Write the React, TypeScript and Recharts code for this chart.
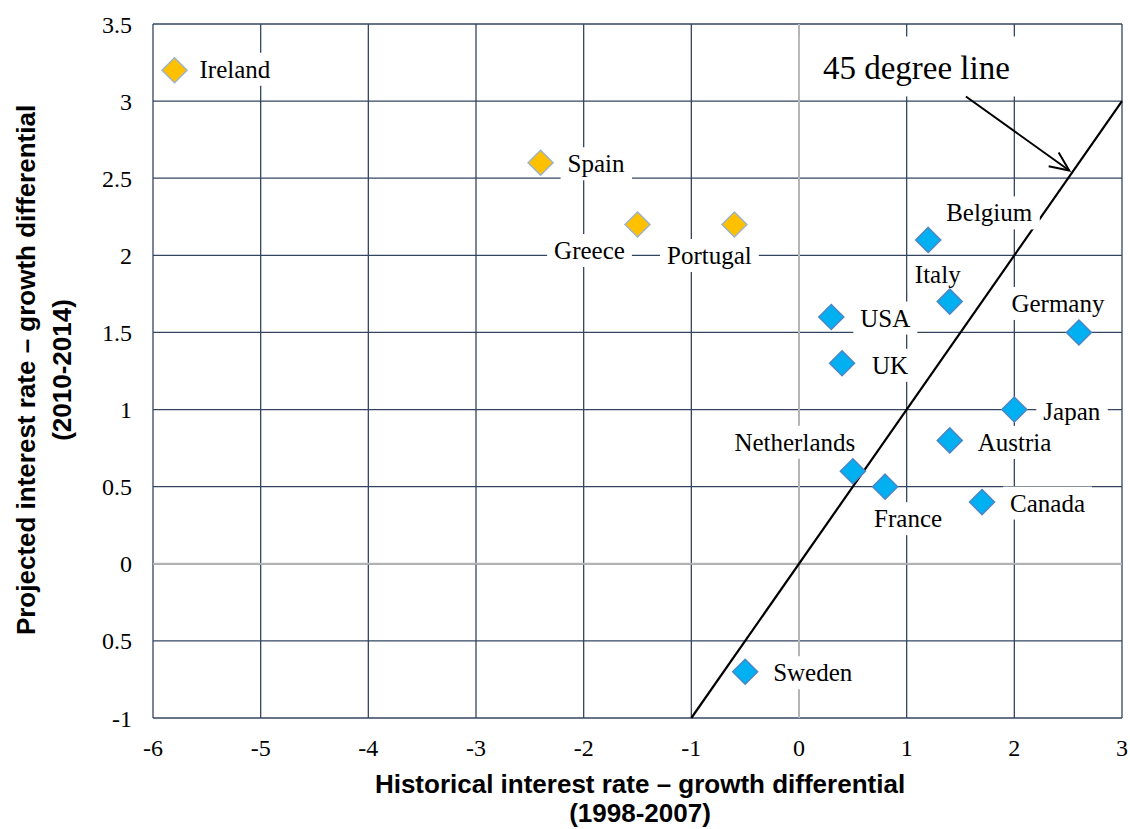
import React, { useLayoutEffect, useRef, useState } from 'react';
import { ScatterChart, Scatter, XAxis, YAxis, CartesianGrid, ReferenceLine, Customized } from 'recharts';

// Euro periphery (yellow)
const peripheryNames = ['Ireland', 'Spain', 'Greece', 'Portugal'];
const peripheryX = [-5.8, -2.4, -1.5, -0.6];
const peripheryY = [3.2, 2.6, 2.2, 2.2];

// other advanced economies (blue)
const otherNames = ['Belgium', 'Italy', 'Germany', 'USA', 'UK', 'Japan', 'Austria', 'Netherlands', 'France', 'Canada', 'Sweden'];
const otherX = [1.2, 1.4, 2.6, 0.3, 0.4, 2.0, 1.4, 0.5, 0.8, 1.7, -0.5];
const otherY = [2.1, 1.7, 1.5, 1.6, 1.3, 1.0, 0.8, 0.6, 0.5, 0.4, -0.7];

const xTicks = [-6, -5, -4, -3, -2, -1, 0, 1, 2, 3];
const yTicks = [-1, -0.5, 0, 0.5, 1, 1.5, 2, 2.5, 3, 3.5];

const diagonal = [{ x: -1, y: -1 }, { x: 3, y: 3 }];
const arrowPoints = [{ x: 1.55, y: 3.03 }, { x: 2.51, y: 2.55 }];
const arrowText = '45 degree line';

const xTitle = ['Historical interest rate \u2013 growth differential', '(1998-2007)'];
const yTitle = ['Projected interest rate \u2013 growth differential', '(2010-2014)'];

const toPoints = (names: string[], xs: number[], ys: number[]) =>
  names.map((name, i) => ({ name, x: xs[i], y: ys[i] }));

const peripheryData = toPoints(peripheryNames, peripheryX, peripheryY);
const otherData = toPoints(otherNames, otherX, otherY);

// where each country label sits relative to its marker
const labelPlacement: Record<string, { dx: number; dy: number; anchor: 'start' | 'middle' }> = {
  Ireland: { dx: 25, dy: -1, anchor: 'start' },
  Spain: { dx: 27, dy: 1, anchor: 'start' },
  Greece: { dx: -48, dy: 26, anchor: 'middle' },
  Portugal: { dx: -25, dy: 31, anchor: 'middle' },
  Belgium: { dx: 61, dy: -27, anchor: 'middle' },
  Italy: { dx: -12, dy: -27, anchor: 'middle' },
  Germany: { dx: -21, dy: -29, anchor: 'middle' },
  USA: { dx: 29, dy: 1, anchor: 'start' },
  UK: { dx: 30, dy: 2, anchor: 'start' },
  Japan: { dx: 29, dy: 2, anchor: 'start' },
  Austria: { dx: 28, dy: 2, anchor: 'start' },
  Netherlands: { dx: -58, dy: -29, anchor: 'middle' },
  France: { dx: 23, dy: 32, anchor: 'middle' },
  Canada: { dx: 28, dy: 1, anchor: 'start' },
  Sweden: { dx: 28, dy: 1, anchor: 'start' },
};

const serif = '"Liberation Serif", "Times New Roman", serif';
const sans = '"Liberation Sans", Arial, sans-serif';
const gridColor = '#34465f';

const CountryMark = (props: any) => {
  const { cx, cy, payload, fill, stroke } = props;
  const place = labelPlacement[payload.name] || { dx: 25, dy: 0, anchor: 'start' };
  const textRef = useRef<SVGTextElement>(null);
  const [box, setBox] = useState<{ x: number; y: number; width: number; height: number } | null>(null);

  useLayoutEffect(() => {
    if (textRef.current) {
      const b = textRef.current.getBBox();
      setBox({ x: b.x, y: b.y, width: b.width, height: b.height });
    }
  }, [cx, cy]);

  const r = 12.5;
  return (
    <g>
      {box && <rect x={box.x - 7} y={box.y - 3} width={box.width + 14} height={box.height + 6} fill="#ffffff" />}
      <text
        ref={textRef}
        x={cx + place.dx}
        y={cy + place.dy}
        textAnchor={place.anchor}
        dominantBaseline="central"
        style={{ fontFamily: serif, fontSize: 25 }}
        fill="#000"
      >
        {payload.name}
      </text>
      <path d={`M${cx},${cy - r} L${cx + r},${cy} L${cx},${cy + r} L${cx - r},${cy} Z`} fill={fill} stroke={stroke} strokeWidth={1.5} />
    </g>
  );
};

const ArrowNote = (props: any) => {
  const { x1, y1, x2, y2 } = props;
  const ang = Math.atan2(y2 - y1, x2 - x1);
  const wing = 21;
  const spread = 0.42;
  const wx1 = x2 - wing * Math.cos(ang - spread);
  const wy1 = y2 - wing * Math.sin(ang - spread);
  const wx2 = x2 - wing * Math.cos(ang + spread);
  const wy2 = y2 - wing * Math.sin(ang + spread);
  return (
    <g>
      <rect x={x1 - 166} y={y1 - 60} width={318} height={60} fill="#ffffff" />
      <text x={x1 - 143} y={y1 - 17} style={{ fontFamily: serif, fontSize: 33 }} fill="#000">
        {arrowText}
      </text>
      <line x1={x1} y1={y1} x2={x2} y2={y2} stroke="#000" strokeWidth={2} />
      <path d={`M${wx1},${wy1} L${x2},${y2} L${wx2},${wy2}`} fill="none" stroke="#000" strokeWidth={2} />
    </g>
  );
};

const XTick = (props: any) => {
  const { x, y, payload } = props;
  return (
    <text x={x} y={y} dy="0.71em" textAnchor="middle" style={{ fontFamily: serif, fontSize: 24 }} fill="#000">
      {payload.value}
    </text>
  );
};

const YTick = (props: any) => {
  const { x, y, payload } = props;
  // the source shows the -0.5 tick with its minus cut off
  const label = payload.value === -0.5 ? '0.5' : String(payload.value);
  return (
    <text x={x} y={y} dy="0.355em" textAnchor="end" style={{ fontFamily: serif, fontSize: 24 }} fill="#000">
      {label}
    </text>
  );
};

const AxisTitles = () => (
  <g style={{ fontFamily: sans, fontWeight: 'bold', fontSize: 26 }} fill="#000">
    <text x={640} y={784} textAnchor="middle" dominantBaseline="central">{xTitle[0]}</text>
    <text x={640} y={813} textAnchor="middle" dominantBaseline="central">{xTitle[1]}</text>
    <text x={26} y={370} textAnchor="middle" dominantBaseline="central" transform="rotate(-90, 26, 370)">{yTitle[0]}</text>
    <text x={62} y={370} textAnchor="middle" dominantBaseline="central" transform="rotate(-90, 62, 370)">{yTitle[1]}</text>
  </g>
);

export default function App() {
  return (
    <div style={{ position: 'absolute', left: 0, top: 0, width: 1130, height: 829, background: '#fff' }}>
      <ScatterChart width={1130} height={829} margin={{ top: 24, right: 8, bottom: 81, left: 93 }}>
        <CartesianGrid stroke={gridColor} strokeWidth={1.3} />
        <XAxis
          type="number"
          dataKey="x"
          domain={[-6, 3]}
          ticks={xTicks}
          tick={<XTick />}
          tickLine={false}
          axisLine={false}
          tickMargin={15}
          height={30}
          allowDataOverflow
        />
        <YAxis
          type="number"
          dataKey="y"
          domain={[-1, 3.5]}
          ticks={yTicks}
          tick={<YTick />}
          tickLine={false}
          axisLine={false}
          tickMargin={15}
          width={60}
          allowDataOverflow
        />
        <ReferenceLine x={0} stroke="#b5b5b5" strokeWidth={2} />
        <ReferenceLine y={0} stroke="#b5b5b5" strokeWidth={2} />
        <Scatter
          name="Periphery"
          data={peripheryData}
          fill="#ffc000"
          stroke="#9fb3c8"
          isAnimationActive={false}
          shape={(p: any) => <CountryMark {...p} fill="#ffc000" stroke="#9fb3c8" />}
        />
        <Scatter
          name="Others"
          data={otherData}
          fill="#00b0f0"
          stroke="#4a86c8"
          isAnimationActive={false}
          shape={(p: any) => <CountryMark {...p} fill="#00b0f0" stroke="#4a86c8" />}
        />
        <ReferenceLine segment={diagonal} stroke="#000" strokeWidth={2.2} />
        <ReferenceLine segment={arrowPoints} stroke="#000" shape={(p: any) => <ArrowNote {...p} />} />
        <Customized component={AxisTitles} />
      </ScatterChart>
    </div>
  );
}
